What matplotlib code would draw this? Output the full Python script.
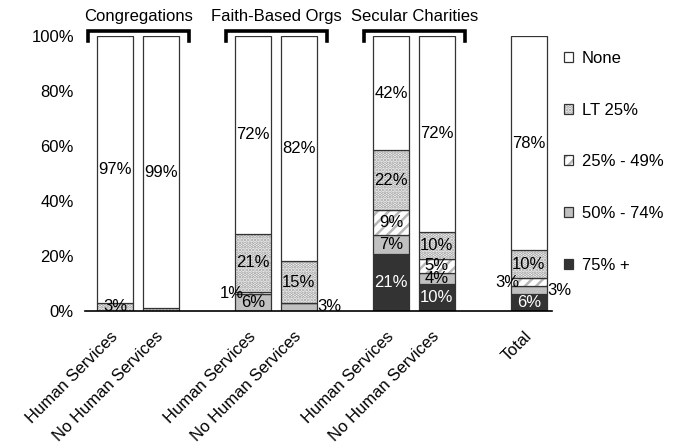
import matplotlib.pyplot as plt
from matplotlib.patches import Patch
from matplotlib.transforms import blended_transform_factory, ScaledTranslation

plt.rcParams["font.family"] = ["Liberation Sans", "DejaVu Sans"]
plt.rcParams["font.size"] = 12
plt.rcParams["hatch.linewidth"] = 1.8

groups = ["Congregations", "Faith-Based Orgs", "Secular Charities", None]
bar_labels = ["Human Services", "No Human Services",
              "Human Services", "No Human Services",
              "Human Services", "No Human Services",
              "Total"]
bar_group = [0, 0, 1, 1, 2, 2, 3]

levels = ["75% +", "50% - 74%", "25% - 49%", "LT 25%", "None"]
v75 = [0, 0, 0, 0, 21, 10, 6]
v50 = [0, 0, 6, 3, 7, 4, 3]
v25 = [0, 0, 1, 0, 9, 5, 3]
vlt = [3, 1, 21, 15, 22, 10, 10]
vnone = [97, 99, 72, 82, 42, 72, 78]
values = [v75, v50, v25, vlt, vnone]

# look of each level: face, hatch, hatch colour, label colour
styles = [
    ("#333333", None, None, "white"),
    ("#c0c0c0", None, None, "black"),
    ("white", "///", "#b8b8b8", "black"),
    ("white", ".....", "#9a9a9a", "black"),
    ("white", None, None, "black"),
]

# labels that Excel pushed beside the bar, or left out
outside = {(2, 2): "left", (3, 1): "right", (6, 2): "left", (6, 1): "right"}
hidden = {(1, 3)}

pos = []
for i, g in enumerate(bar_group):
    first = bar_group.index(g)
    pos.append(g * 3 + (i - first))

fig = plt.figure(figsize=(6.83, 4.48), dpi=100)
ax = fig.add_axes([0.1245, 0.306, 0.6835, 0.614])

width = 0.78
edge = "#333333"
totals = [sum(v[i] for v in values) for i in range(len(pos))]
bottoms = [0.0] * len(pos)
handles = []
for lvl, (name, vals) in enumerate(zip(levels, values)):
    face, hatch, hcol, tcol = styles[lvl]
    heights = [100.0 * v / t for v, t in zip(vals, totals)]
    ax.bar(pos, heights, width, bottom=bottoms, color=face, hatch=hatch,
           edgecolor=hcol if hatch else face, linewidth=0)
    ax.bar(pos, heights, width, bottom=bottoms, fill=False,
           edgecolor=edge, linewidth=0.9)
    for i, (x, h, b, v) in enumerate(zip(pos, heights, bottoms, vals)):
        if v == 0 or (i, lvl) in hidden:
            continue
        side = outside.get((i, lvl))
        y = b + h / 2
        if side == "left":
            ax.text(x - 0.2, y, f"{v}%", ha="right", va="center")
        elif side == "right":
            ax.text(x + 0.4, y, f"{v}%", ha="left", va="center")
        else:
            ax.text(x, y, f"{v}%", ha="center", va="center", color=tcol)
    bottoms = [b + h for b, h in zip(bottoms, heights)]
    handles.append((Patch(facecolor=face, hatch=hatch,
                          edgecolor=hcol if hatch else face, linewidth=0),
                    Patch(fill=False, edgecolor=edge, linewidth=0.9)))

ax.set_xlim(-0.65, 9.5)
ax.set_ylim(0, 100)
ax.set_yticks(range(0, 101, 20))
ax.set_yticklabels([f"{t}%" for t in range(0, 101, 20)])
ax.set_xticks(pos)
ax.set_xticklabels(bar_labels, rotation=45, ha="right", rotation_mode="anchor")
ax.tick_params(length=0)
ax.tick_params(axis="x", pad=13)
ax.tick_params(axis="y", pad=8)
shift = ScaledTranslation(-5 / 100, 0, fig.dpi_scale_trans)
for lab in ax.get_xticklabels():
    lab.set_transform(lab.get_transform() + shift)
for s in ["top", "right", "left"]:
    ax.spines[s].set_visible(False)
ax.spines["bottom"].set_linewidth(1.2)

# group brackets above the bars
tr = blended_transform_factory(ax.transData, ax.transAxes)
for g, name in enumerate(groups):
    if name is None:
        continue
    members = [p for p, bg in zip(pos, bar_group) if bg == g]
    x0, x1 = members[0] - 0.58, members[-1] + 0.62
    ax.plot([x0, x0, x1, x1], [0.98, 1.016, 1.016, 0.98], color="black",
            lw=2.6, transform=tr, clip_on=False, solid_joinstyle="miter")
    ax.text((x0 + x1) / 2, 1.072, name, ha="center", va="center", transform=tr)

fig.legend([handles[i] for i in range(4, -1, -1)],
           [levels[i] for i in range(4, -1, -1)],
           loc="center left", bbox_to_anchor=(0.826, 0.639), frameon=False,
           borderpad=0, borderaxespad=0, labelspacing=2.2,
           handlelength=0.55, handleheight=0.55, handletextpad=0.5)

fig.savefig("out.png", dpi=100)
